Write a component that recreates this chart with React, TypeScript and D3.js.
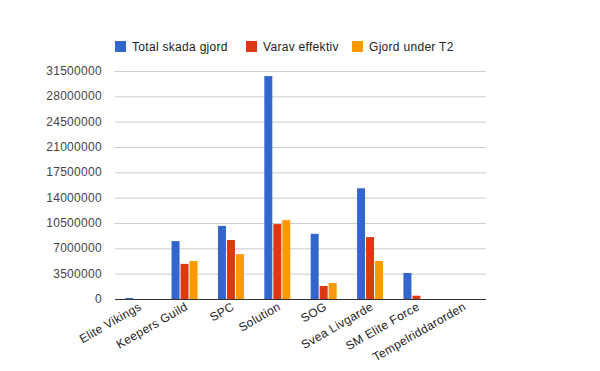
import React from "react";
import * as d3 from "d3";

const categories = ["Elite Vikings", "Keepers Guild", "SPC", "Solution", "SOG", "Svea Livgarde", "SM Elite Force", "Tempelriddarorden"];
const seriesNames = ["Total skada gjord", "Varav effektiv", "Gjord under T2"];
const totalSkada = [120000, 8000000, 10100000, 30800000, 9000000, 15300000, 3600000, 0];
const varavEffektiv = [0, 4850000, 8150000, 10350000, 1800000, 8550000, 450000, 0];
const gjordUnderT2 = [0, 5250000, 6200000, 10900000, 2200000, 5250000, 0, 0];
const yTicks = [0, 3500000, 7000000, 10500000, 14000000, 17500000, 21000000, 24500000, 28000000, 31500000];
const colors = ["#3366cc", "#dc3912", "#ff9900"];

const W = 600, H = 371;
const left = 115, right = 486, top = 71, bottom = 299;

export default function App() {
  const series = [totalSkada, varavEffektiv, gjordUnderT2];
  const x = d3.scaleBand().domain(categories).range([left, right]);
  const y = d3.scaleLinear().domain([0, 31500000]).range([bottom, top]);
  const barW = 8, gap = 1;
  const groupW = barW * 3 + gap * 2;
  const font = "Arial, 'Liberation Sans', sans-serif";
  const legendX = [115, 246, 352];
  const ls = 0.3;
  return (
    <svg width={W} height={H} style={{ position: "absolute", left: 0, top: 0, background: "#fff" }} fontFamily={font}>
      <rect width={W} height={H} fill="#fff" />
      {seriesNames.map((n, i) => (
        <g key={n}>
          <rect x={legendX[i]} y={41} width={11} height={11} fill={colors[i]} />
          <text x={legendX[i] + 17} y={50.5} fontSize={12} letterSpacing={ls} fill="#222">{n}</text>
        </g>
      ))}
      {yTicks.map((t) => (
        <g key={t}>
          {t !== 0 && <line x1={left} x2={right} y1={y(t) + 0.5} y2={y(t) + 0.5} stroke="#cccccc" />}
          <text x={102} y={y(t) + 4} fontSize={12} letterSpacing={ls} fill="#444" textAnchor="end">{t}</text>
        </g>
      ))}
      {categories.map((c, ci) => {
        const cx = (x(c) as number) + x.bandwidth() / 2;
        return (
          <g key={c}>
            {series.map((s, si) => {
              const v = s[ci];
              if (v <= 0) return null;
              const bx = cx - groupW / 2 + si * (barW + gap);
              const h = Math.max(1, bottom - y(v));
              return <rect key={si} x={bx} y={bottom - h} width={barW} height={h} fill={colors[si]} />;
            })}
            <text transform={`translate(${cx + 4},${309}) rotate(-30)`} fontSize={12} letterSpacing={ls} fill="#222" textAnchor="end">{c}</text>
          </g>
        );
      })}
      <line x1={left} x2={right} y1={bottom + 0.5} y2={bottom + 0.5} stroke="#333" />
    </svg>
  );
}
